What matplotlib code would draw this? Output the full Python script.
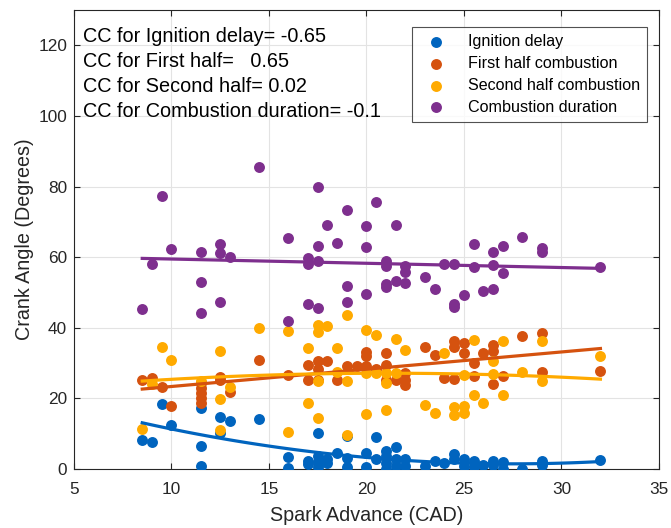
import matplotlib
matplotlib.use("Agg")
import matplotlib.pyplot as plt
import numpy as np

plt.rcParams['font.family'] = ['Liberation Sans', 'DejaVu Sans']

# --- Daten ---

# Ignition delay
x_ign = [8.5, 9, 9.5, 10, 11.5, 11.5, 11.5, 12.5, 12.5, 13, 14.5, 16, 16, 17, 17,
         17.5, 17.5, 17.5, 17.5, 18, 18, 18.5, 19, 19, 19, 20, 20, 20.5, 20.5,
         21, 21, 21, 21, 21.5, 21.5, 21.5, 22, 22, 23, 23.5, 24, 24.5, 24.5,
         25, 25, 25.5, 25.5, 26, 26.5, 26.5, 27, 27, 28, 29, 29, 32]
y_ign = [8.2, 7.6, 18.5, 12.5, 17.2, 6.6, 0.9, 14.7, 10.2, 13.7, 14.2, 3.5, 0.2, 2.4, 1.4,
         10.1, 3.8, 1.9, 0.5, 2.7, 1.6, 4.5, 9.4, 3.1, 0.7, 4.5, 0.7, 9.2, 2.7,
         5.2, 3.7, 1.8, 0.0, 6.3, 2.7, 0.8, 2.7, 0.8, 0.8, 2.3, 1.6, 4.2, 2.7,
         2.9, 0.8, 2.3, 0.7, 1.1, 2.4, 1.1, 1.9, 0.0, 0.1, 2.4, 1.0, 2.6]

# First half combustion
x_first = [8.5, 9, 9.5, 10, 11.5, 11.5, 11.5, 11.5, 11.5, 12.5, 12.5, 13, 14.5, 16,
           17, 17, 17.5, 17.5, 17.5, 18, 18.5, 19, 19.5, 20, 20, 20, 20.5,
           21, 21, 21, 21.5, 22, 22, 22, 23, 23.5, 24, 24.5, 24.5, 24.5,
           25, 25, 25.5, 25.5, 26, 26.5, 26.5, 26.5, 27, 28, 29, 29, 32]
y_first = [25.1, 25.7, 23.2, 17.9, 24.4, 23.0, 21.6, 20.2, 18.8, 26.2, 25.3, 21.8, 31.0, 26.7,
           29.5, 25.3, 30.5, 28.3, 25.3, 30.7, 25.3, 29.3, 29.1, 33.1, 32.0, 29.1, 28.4,
           32.9, 29.5, 25.3, 25.3, 27.2, 25.3, 23.7, 34.7, 32.4, 25.8, 36.2, 34.7, 25.5,
           35.7, 33.0, 30.0, 26.4, 32.9, 35.2, 33.3, 24.1, 26.4, 37.6, 38.5, 27.5, 27.8]

# Second half combustion
x_second = [8.5, 9, 9.5, 10, 11.5, 12.5, 12.5, 12.5, 13, 14.5, 16, 16, 17, 17,
            17.5, 17.5, 17.5, 17.5, 18, 18.5, 18.5, 19, 19, 19, 20, 20, 20, 20.5, 20.5,
            21, 21, 21, 21.5, 21.5, 22, 23, 23.5, 24, 24.5, 24.5, 25, 25, 25,
            25.5, 25.5, 26, 26.5, 26.5, 27, 27, 28, 29, 29, 32]
y_second = [11.3, 24.0, 34.7, 31.0, 24.8, 33.3, 19.9, 11.1, 23.2, 40.0, 39.0, 10.6, 34.3, 18.8,
            40.9, 38.7, 25.0, 14.4, 40.4, 34.3, 27.4, 43.7, 25.0, 9.7, 39.3, 27.2, 15.6, 38.1, 27.2,
            27.2, 24.5, 16.6, 36.8, 27.2, 33.6, 18.2, 16.0, 32.9, 17.7, 15.3, 26.5, 17.9, 15.8,
            36.5, 21.0, 18.8, 30.7, 27.0, 36.2, 21.0, 27.5, 36.2, 24.8, 31.9]

# Combustion duration
x_dur = [8.5, 9, 9.5, 10, 11.5, 11.5, 11.5, 12.5, 12.5, 12.5, 13, 14.5, 16, 16,
         17, 17, 17, 17.5, 17.5, 17.5, 17.5, 18, 18.5, 19, 19, 19, 20, 20, 20, 20.5,
         21, 21, 21, 21, 21.5, 21.5, 22, 22, 22, 23, 23.5, 24, 24.5, 24.5, 24.5,
         25, 25.5, 25.5, 26, 26.5, 26.5, 26.5, 27, 27, 28, 29, 29, 32]
y_dur = [45.4, 58.0, 77.4, 62.4, 61.6, 53.0, 44.2, 63.6, 61.2, 47.4, 60.1, 85.5, 65.4, 41.8,
         59.9, 58.2, 46.7, 79.9, 63.1, 58.9, 45.5, 69.2, 64.1, 73.3, 51.7, 47.2, 68.8, 63.0, 49.5, 75.5,
         58.9, 57.5, 52.3, 51.5, 69.0, 53.3, 57.5, 55.8, 52.6, 54.3, 51.0, 58.0, 58.2, 46.6, 45.8,
         49.4, 63.7, 57.3, 50.4, 61.6, 57.9, 50.9, 63.2, 55.6, 65.6, 62.5, 61.4, 57.2]

labels = ["Ignition delay", "First half combustion", "Second half combustion", "Combustion duration"]
cc_texts = ["CC for Ignition delay= -0.65",
            "CC for First half=   0.65",
            "CC for Second half= 0.02",
            "CC for Combustion duration= -0.1"]

colors = ["#0064BE", "#D5520F", "#FFAA00", "#7E2F8E"]
fit_deg = [2, 1, 2, 1]

series = [(x_ign, y_ign), (x_first, y_first), (x_second, y_second), (x_dur, y_dur)]

# --- Plot ---
fig = plt.figure(figsize=(6.71, 5.28), dpi=100)
ax = fig.add_axes([0.1103, 0.1117, 0.8717, 0.8693])

for (xs, ys), c, lab in zip(series, colors, labels):
    ax.scatter(xs, ys, s=62, color=c, label=lab, zorder=3, linewidths=0)

# Trendlinien
for (xs, ys), c, d in zip(series, colors, fit_deg):
    xs = np.array(xs)
    p = np.polyfit(xs, ys, d)
    xf = np.linspace(xs.min(), xs.max(), 100)
    ax.plot(xf, np.polyval(p, xf), color=c, linewidth=2.3, zorder=4)

ax.set_xlim(5, 35)
ax.set_ylim(0, 130)
ax.set_xticks(range(5, 36, 5))
ax.set_yticks(range(0, 121, 20))
ax.grid(True, color="#e3e3e3", linewidth=0.8)
ax.set_axisbelow(True)
ax.tick_params(direction="in", length=4, labelsize=12.4, colors="#262626", top=True, right=True,
               labeltop=False, labelright=False)
ax.tick_params(axis="x", pad=9)
ax.tick_params(axis="y", pad=5)
for sp in ax.spines.values():
    sp.set_color("#262626")
    sp.set_linewidth(0.8)

ax.set_xlabel("Spark Advance (CAD)", fontsize=14.2, color="#262626", labelpad=7)
ax.set_ylabel("Crank Angle (Degrees)", fontsize=14.2, color="#262626", labelpad=3)

for i, t in enumerate(cc_texts):
    ax.text(0.015, 0.943 - i * 0.0545, t, transform=ax.transAxes, fontsize=14.3,
            va="center", ha="left", color="#000000")

leg = ax.legend(loc="upper right", bbox_to_anchor=(0.98, 0.963), fontsize=11.6, frameon=True,
                fancybox=False, edgecolor="#262626", handletextpad=1.0, borderpad=0.45,
                labelspacing=0.42, borderaxespad=0.0)
leg.get_frame().set_linewidth(0.8)

fig.savefig("out.png", dpi=100)
